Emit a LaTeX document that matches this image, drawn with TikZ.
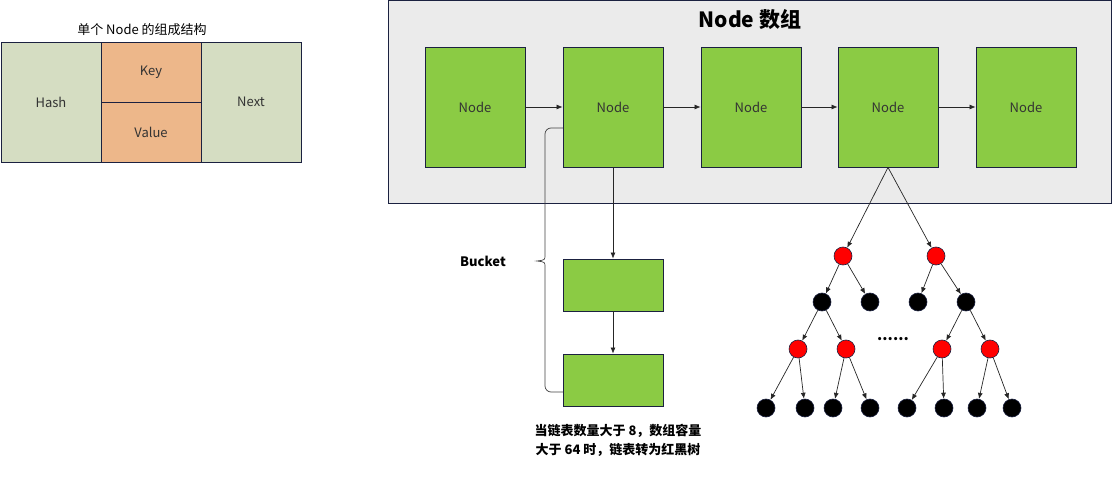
\documentclass[tikz,border=0pt]{standalone}
\usepackage{fontspec}
\setmainfont{Noto Sans CJK SC}
\usetikzlibrary{arrows.meta}
\definecolor{navyline}{HTML}{1B2140}
\definecolor{nodegreen}{HTML}{8BCB44}
\definecolor{hashgreen}{HTML}{D5DDC2}
\definecolor{keyorange}{HTML}{EDB78A}
\definecolor{boxgray}{HTML}{EBEBEB}
\definecolor{nodered}{HTML}{FF0000}
\begin{document}
\begin{tikzpicture}[x=1pt,y=-1pt,font=\fontsize{13}{15}\selectfont,
  cell/.style={draw=navyline,line width=0.8pt,inner sep=0pt,text=black!80},
  arrnode/.style={cell,fill=nodegreen,minimum width=100pt,minimum height=120pt},
  bktnode/.style={cell,fill=nodegreen,minimum width=100pt,minimum height=52pt},
  rb/.style={circle,draw=navyline,line width=0.6pt,inner sep=0pt,minimum size=18pt},
  link/.style={draw=black!85,line width=0.7pt,-{Latex[length=6pt,width=5pt]}}]
  \useasboundingbox (0,0) rectangle (1112,484);
  % single node
  \node at (142,30) {单个 Node 的组成结构};
  \node[cell,fill=hashgreen,minimum width=100pt,minimum height=120pt] (hash) at (51,102) {Hash};
  \node[cell,fill=keyorange,minimum width=100pt,minimum height=60pt] (key) at (151,72) {Key};
  \node[cell,fill=keyorange,minimum width=100pt,minimum height=60pt] (value) at (151,132) {Value};
  \node[cell,fill=hashgreen,minimum width=100pt,minimum height=120pt] (next) at (251,102) {Next};
  % array
  \node[cell,fill=boxgray,minimum width=723pt,minimum height=203pt] (array) at (749.5,101.5) {};
  \node[font=\fontsize{21}{24}\selectfont\bfseries] at (750,20) {Node 数组};
  \foreach \i/\x in {1/475,2/613,3/751,4/888,5/1026}
    \node[arrnode] (arr\i) at (\x,107) {Node};
  \foreach \i/\j in {1/2,2/3,3/4,4/5}
    \draw[link] (arr\i.east) -- (arr\j.west);
  % bucket
  \node[bktnode] (bkt1) at (613,285) {};
  \node[bktnode] (bkt2) at (613,380) {};
  \draw[link] (arr2.south) -- (bkt1.north);
  \draw[link] (bkt1.south) -- (bkt2.north);
  \draw[draw=black!75,line width=0.7pt] (563,128) -- (551,128) arc[start angle=270,end angle=180,radius=6]
    -- (545,255) .. controls (545,260) .. (537,261) .. controls (545,262) .. (545,267)
    -- (545,386) arc[start angle=180,end angle=90,radius=6] -- (563,392);
  \node[font=\fontsize{13}{15}\selectfont\bfseries] (bucket) at (483,261) {Bucket};
  \node[font=\fontsize{13}{19}\selectfont\bfseries,align=center] (note) at (618,440)
    {当链表数量大于 8，数组容量\\大于 64 时，链表转为红黑树};
  % red black tree
  \node[rb,fill=nodered] (r1) at (843,256) {};
  \node[rb,fill=nodered] (r2) at (936,256) {};
  \foreach \i/\x in {1/822,2/870,3/918,4/966}
    \node[rb,fill=black] (b\i) at (\x,302) {};
  \foreach \i/\x in {1/798,2/846,3/942,4/990}
    \node[rb,fill=nodered] (s\i) at (\x,349) {};
  \foreach \i/\x in {1/766,2/805,3/833,4/870,5/907,6/944,7/977,8/1012}
    \node[rb,fill=black] (l\i) at (\x,408) {};
  \node[font=\fontsize{15}{17}\selectfont\bfseries] (dots) at (893,339) {......};
  \draw[link] (arr4.south) -- (r1);
  \draw[link] (arr4.south) -- (r2);
  \draw[link] (r1) -- (b1);
  \draw[link] (r1) -- (b2);
  \draw[link] (r2) -- (b3);
  \draw[link] (r2) -- (b4);
  \draw[link] (b1) -- (s1);
  \draw[link] (b1) -- (s2);
  \draw[link] (b4) -- (s3);
  \draw[link] (b4) -- (s4);
  \foreach \s/\a/\b in {1/1/2,2/3/4,3/5/6,4/7/8} {
    \draw[link] (s\s) -- (l\a);
    \draw[link] (s\s) -- (l\b);
  }
\end{tikzpicture}
\end{document}
